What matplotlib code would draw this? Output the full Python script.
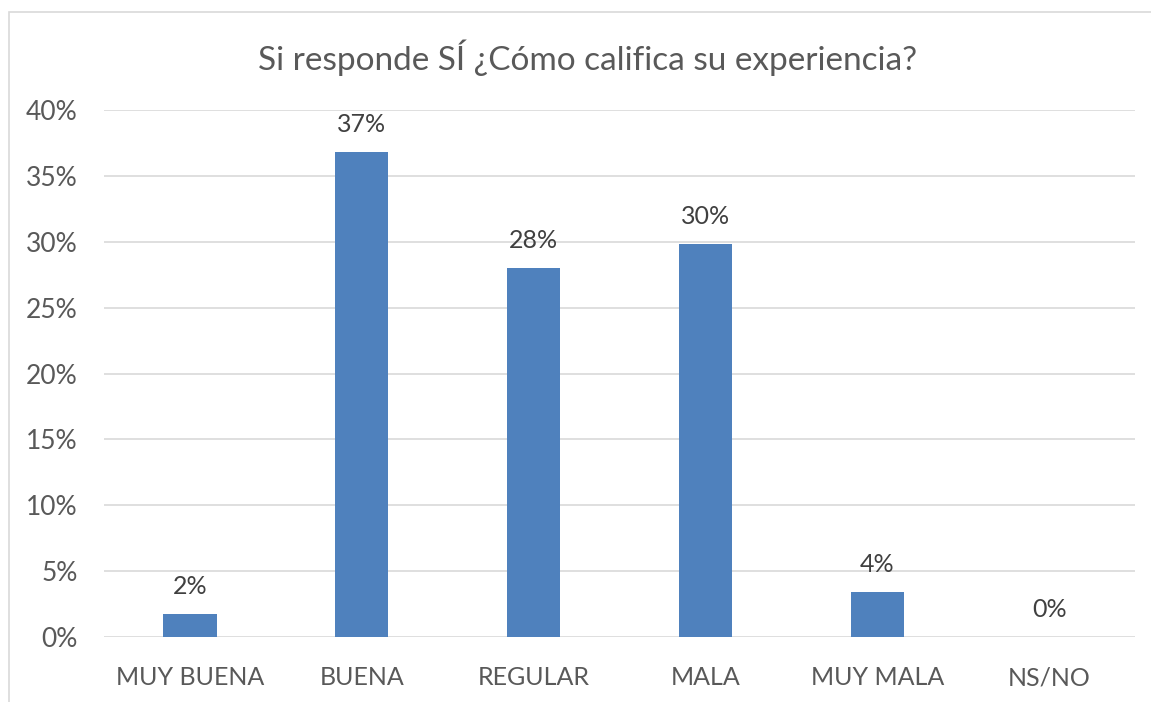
import matplotlib
matplotlib.use("Agg")
import matplotlib.pyplot as plt
from matplotlib.patches import Rectangle
from matplotlib.ticker import FuncFormatter, MultipleLocator

plt.rcParams['font.family'] = ['Lato', 'DejaVu Sans']

categorias = ["MUY BUENA", "BUENA", "REGULAR", "MALA", "MUY MALA", "NS/NO"]
valores = [0.0175, 0.368, 0.280, 0.298, 0.034, 0.0]
etiquetas = ["2%", "37%", "28%", "30%", "4%", "0%"]

fig = plt.figure(figsize=(11.51, 7.02), dpi=100)
fig.patches.append(Rectangle((9 / 1151, -0.1), 1.2, 1 - 12 / 702 + 0.1,
                             transform=fig.transFigure, fill=False,
                             edgecolor="#D9D9D9", linewidth=1.2))
ax = fig.add_axes([104 / 1151, 1 - 637 / 702, 1031 / 1151, 527 / 702])

x = range(len(categorias))
ax.bar(x, valores, width=0.31, color="#4F81BD", zorder=3)

for xi, v, t in zip(x, valores, etiquetas):
    ax.annotate(t, (xi, v), xytext=(0, 20), textcoords="offset points",
                ha="center", va="center", fontsize=18, color="#404040")

ax.set_xlim(-0.5, len(categorias) - 0.5)
ax.set_ylim(0, 0.40)
ax.yaxis.set_major_locator(MultipleLocator(0.05))
ax.yaxis.set_major_formatter(FuncFormatter(lambda v, p: f"{v * 100:.0f}%"))
ax.set_xticks(list(x))
ax.set_xticklabels(categorias)
ax.grid(axis="y", color="#D9D9D9", linewidth=1.2, zorder=0)
for s in ax.spines.values():
    s.set_visible(False)
ax.tick_params(axis="both", length=0, labelsize=18, colors="#595959")
ax.tick_params(axis="y", labelsize=19, pad=19)
ax.tick_params(axis="x", pad=21)

fig.text(588 / 1151, 1 - 58 / 702, "Si responde SÍ ¿Cómo califica su experiencia?",
         ha="center", va="center", fontsize=24, color="#595959")

fig.savefig("out.png", dpi=100)
